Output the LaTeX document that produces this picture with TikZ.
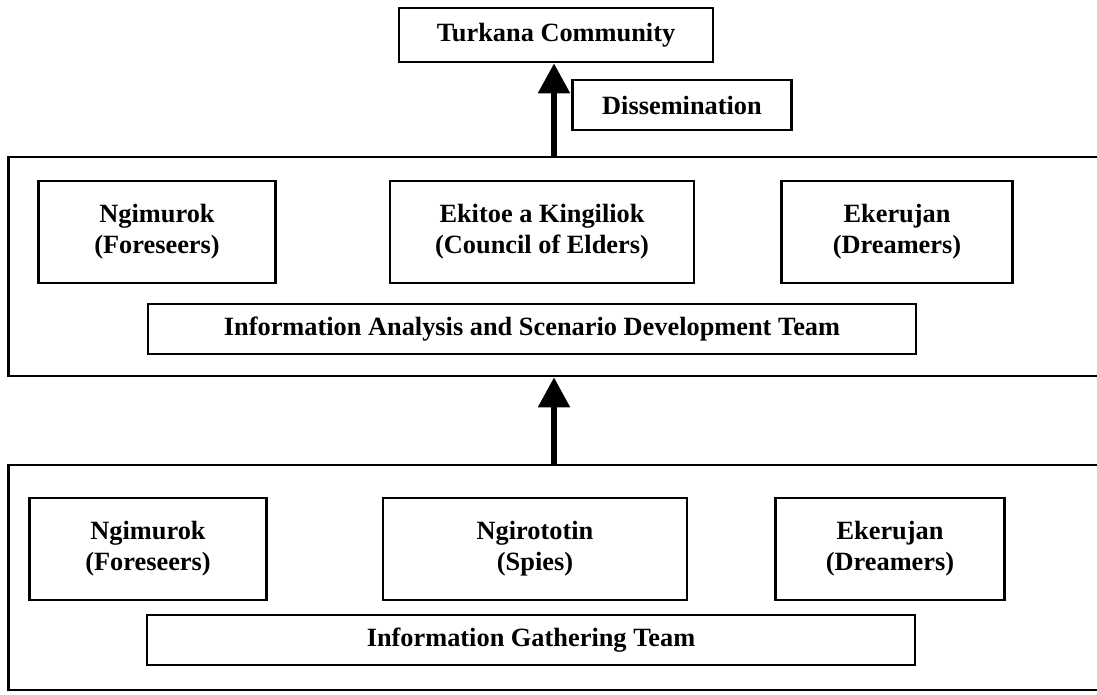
\documentclass[tikz,border=0pt]{standalone}
\usepackage{fontspec}
\setmainfont{Liberation Serif}
\usetikzlibrary{arrows.meta,positioning}

\begin{document}
\begin{tikzpicture}[
        x=0.02cm, y=-0.02cm,
        box/.style={rectangle, draw, line width=1.6pt, align=center,
                    font=\fontsize{15}{17.5}\selectfont\bfseries, inner sep=0pt},
        member/.style={box, minimum width=4.74cm, minimum height=2.04cm},
        team/.style={box, minimum width=15.36cm, minimum height=1cm},
        layer/.style={rectangle, draw, line width=1.6pt, minimum width=21.84cm},
        arrow/.style={draw, line width=3.2pt, -{Triangle[width=0.62cm,length=0.6cm]}}
    ]
    \useasboundingbox (0,0) rectangle (1097,695);

    % Top: community and dissemination label
    \node[box, minimum width=6.28cm, minimum height=1.08cm] (community) at (556,35) {Turkana Community};
    \node[box, minimum width=4.38cm, minimum height=1cm] (dissemination) at (682,105) {Dissemination};

    % Analysis layer
    \node[layer, minimum height=4.38cm] (analysis) at (554,266.5) {};
    \node[member] (foreseers1) at (157,232) {Ngimurok\\(Foreseers)};
    \node[member, minimum width=6.08cm] (elders) at (542,232) {Ekitoe a Kingiliok\\(Council of Elders)};
    \node[member, minimum width=4.62cm] (dreamers1) at (897,232) {Ekerujan\\(Dreamers)};
    \node[team] (analysisteam) at (532,329) {Information Analysis and Scenario Development Team};

    % Gathering layer
    \node[layer, minimum height=4.5cm] (gathering) at (554,577.5) {};
    \node[member] (foreseers2) at (148,549) {Ngimurok\\(Foreseers)};
    \node[member, minimum width=6.08cm] (spies) at (535,549) {Ngirototin\\(Spies)};
    \node[member, minimum width=4.58cm] (dreamers2) at (890,549) {Ekerujan\\(Dreamers)};
    \node[team] (gatheringteam) at (531,640) {Information Gathering Team};

    % Flow of information
    \draw[arrow] (gathering.north) -- (analysis.south);
    \draw[arrow] (analysis.north) -- (analysis.north |- community.south);

\end{tikzpicture}
\end{document}
